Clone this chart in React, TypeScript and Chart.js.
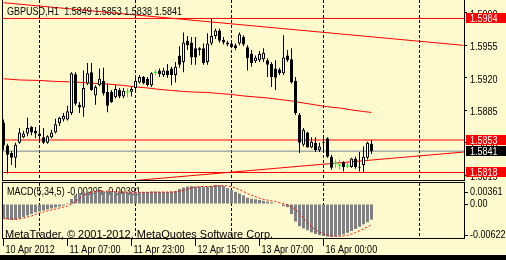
import React, { useEffect, useRef } from 'react';
import { Chart, registerables } from 'chart.js';

Chart.register(...registerables);

// ---------------- data ----------------
const symbolTitle = 'GBPUSD,H1  1.5849 1.5853 1.5838 1.5841';
const macdTitle = 'MACD(5,34,5) -0.00295 -0.00391';
const copyrightText = 'MetaTrader, \u00A9 2001-2012, MetaQuotes Software Corp.';

const timeTickBars = [0, 16, 32, 48, 64, 80];
const timeTickLabels = ['10 Apr 2012', '11 Apr 07:00', '11 Apr 23:00', '12 Apr 15:00', '13 Apr 07:00', '16 Apr 00:00'];
const dayGridBars = [9, 33, 57, 80, 104];
const priceTicks = [1.599, 1.5955, 1.592, 1.5885, 1.585, 1.5815];
const macdTicks = [0.00361, 0, -0.00622];
const macdTickLabels = ['0.00361', '0.00', '-0.00622'];

const opens = [
  1.5872, 1.5847, 1.5839, 1.5834, 1.5850, 1.5856, 1.5860, 1.5867, 1.5863, 1.5860,
  1.5856, 1.5850, 1.5856, 1.5861, 1.5871, 1.5875, 1.5875, 1.5882, 1.5924, 1.5891,
  1.5888, 1.5914, 1.5926, 1.5901, 1.5912, 1.5917, 1.5905, 1.5905, 1.5899, 1.5907,
  1.5900, 1.5905, 1.5905, 1.5909, 1.5915, 1.5921, 1.5919, 1.5912, 1.5926, 1.5928,
  1.5923, 1.5928, 1.5930, 1.5923, 1.5944, 1.5937, 1.5960, 1.5958, 1.5952, 1.5952,
  1.5952, 1.5937, 1.5957, 1.5965, 1.5971, 1.5961, 1.5958, 1.5957, 1.5955, 1.5957,
  1.5964, 1.5953, 1.5946, 1.5938, 1.5939, 1.5940, 1.5939, 1.5935, 1.5930, 1.5929,
  1.5925, 1.5944, 1.5940, 1.5917, 1.5880, 1.5848, 1.5861, 1.5845, 1.5850, 1.5842,
  1.5851, 1.5855, 1.5835, 1.5828, 1.5826, 1.5829, 1.5825, 1.5824, 1.5833, 1.5824,
  1.5826, 1.5834, 1.5849,
];
const highs = [
  1.5875, 1.5849, 1.5841, 1.5850, 1.5866, 1.5863, 1.5877, 1.5868, 1.5867, 1.5866,
  1.5866, 1.5858, 1.5864, 1.5876, 1.5878, 1.5882, 1.5890, 1.5926, 1.5926, 1.5894,
  1.5928, 1.5936, 1.5936, 1.5912, 1.5930, 1.5931, 1.5914, 1.5907, 1.5912, 1.5909,
  1.5909, 1.5909, 1.5910, 1.5920, 1.5923, 1.5922, 1.5921, 1.5926, 1.5929, 1.5930,
  1.5931, 1.5935, 1.5932, 1.5937, 1.5954, 1.5969, 1.5965, 1.5964, 1.5964, 1.5953,
  1.5957, 1.5968, 1.5984, 1.5973, 1.5973, 1.5964, 1.5960, 1.5960, 1.5957, 1.5969,
  1.5966, 1.5955, 1.5950, 1.5944, 1.5949, 1.5952, 1.5941, 1.5937, 1.5939, 1.5931,
  1.5966, 1.5950, 1.5952, 1.5921, 1.5882, 1.5866, 1.5862, 1.5856, 1.5856, 1.5850,
  1.5855, 1.5856, 1.5837, 1.5832, 1.5832, 1.5830, 1.5829, 1.5834, 1.5835, 1.5840,
  1.5846, 1.5851, 1.5853,
];
const lows = [
  1.5842, 1.5817, 1.5826, 1.5823, 1.5849, 1.5855, 1.5857, 1.5858, 1.5855, 1.5853,
  1.5849, 1.5849, 1.5855, 1.5860, 1.5868, 1.5873, 1.5874, 1.5880, 1.5890, 1.5882,
  1.5878, 1.5912, 1.5906, 1.5891, 1.5911, 1.5901, 1.5883, 1.5893, 1.5898, 1.5898,
  1.5898, 1.5899, 1.5900, 1.5907, 1.5914, 1.5913, 1.5911, 1.5910, 1.5923, 1.5921,
  1.5921, 1.5920, 1.5912, 1.5915, 1.5931, 1.5926, 1.5950, 1.5934, 1.5934, 1.5944,
  1.5934, 1.5934, 1.5955, 1.5962, 1.5958, 1.5956, 1.5954, 1.5952, 1.5950, 1.5955,
  1.5954, 1.5928, 1.5932, 1.5936, 1.5937, 1.5937, 1.5921, 1.5910, 1.5907, 1.5923,
  1.5923, 1.5937, 1.5914, 1.5880, 1.5839, 1.5846, 1.5845, 1.5844, 1.5840, 1.5840,
  1.5840, 1.5834, 1.5821, 1.5823, 1.5821, 1.5819, 1.5823, 1.5823, 1.5822, 1.5819,
  1.5818, 1.5832, 1.5838,
];
const closes = [
  1.5847, 1.5837, 1.5834, 1.5848, 1.5861, 1.5860, 1.5866, 1.5861, 1.5860, 1.5857,
  1.5850, 1.5857, 1.5861, 1.5870, 1.5877, 1.5879, 1.5884, 1.5925, 1.5892, 1.5888,
  1.5909, 1.5925, 1.5907, 1.5910, 1.5919, 1.5903, 1.5890, 1.5894, 1.5908, 1.5900,
  1.5906, 1.5905, 1.5908, 1.5917, 1.5921, 1.5914, 1.5912, 1.5925, 1.5926, 1.5924,
  1.5928, 1.5923, 1.5923, 1.5932, 1.5934, 1.5958, 1.5955, 1.5942, 1.5942, 1.5950,
  1.5936, 1.5957, 1.5965, 1.5971, 1.5960, 1.5958, 1.5956, 1.5953, 1.5952, 1.5967,
  1.5956, 1.5941, 1.5936, 1.5942, 1.5946, 1.5947, 1.5934, 1.5921, 1.5920, 1.5925,
  1.5942, 1.5939, 1.5915, 1.5882, 1.5850, 1.5864, 1.5845, 1.5851, 1.5842, 1.5846,
  1.5850, 1.5835, 1.5823, 1.5828, 1.5826, 1.5824, 1.5825, 1.5833, 1.5824, 1.5823,
  1.5835, 1.5850, 1.5841,
];

const levelLines = [1.5984, 1.5853, 1.5818];
const bidPrice = 1.5841;

const maBars = [0, 4, 9, 13, 18, 21, 24, 27, 30, 33, 36, 39, 42, 45, 48, 51, 54, 57, 60, 63, 66, 69, 72, 75, 78, 81, 84, 87, 90, 92];
const maValues = [
  1.5919, 1.59177, 1.59172, 1.59161, 1.59155, 1.59145, 1.59139, 1.59129, 1.59118, 1.59102,
  1.59091, 1.59075, 1.59064, 1.59053, 1.59046, 1.59042, 1.59031, 1.59021, 1.59005, 1.58994,
  1.58983, 1.58967, 1.58951, 1.58929, 1.58908, 1.58888, 1.58875, 1.58854, 1.58837, 1.58827,
];

const upperTrendBars = [0, 115];
const upperTrendPrices = [1.6001, 1.5955];
const lowerTrendBars = [30, 115];
const lowerTrendPrices = [1.58083, 1.584];

const macdHist = [
  -0.00274, -0.00289, -0.00302, -0.00296, -0.00274, -0.00245, -0.00217, -0.00189, -0.0016, -0.00142,
  -0.00123, -0.00104, -0.00085, -0.00066, -0.00047, -0.00028, 0.00019, 0.00094, 0.0017, 0.00208,
  0.00226, 0.00236, 0.00245, 0.00245, 0.00236, 0.00236, 0.00236, 0.00226, 0.00226, 0.00226,
  0.00226, 0.00217, 0.00217, 0.00226, 0.00226, 0.00226, 0.00226, 0.00236, 0.00236, 0.00226,
  0.00226, 0.00226, 0.00236, 0.00245, 0.00283, 0.00311, 0.0033, 0.0034, 0.0033, 0.0033,
  0.00321, 0.0033, 0.0034, 0.00361, 0.00355, 0.0034, 0.003, 0.00264, 0.0023, 0.002,
  0.00165, 0.0012, 0.001, 0.0009, 0.00075, 0.0006, 0.00045, 0.0003, 0.0001, -0.0001,
  -0.0004, -0.0006, -0.0019, -0.0033, -0.0042, -0.0046, -0.00495, -0.00535, -0.00565, -0.00585,
  -0.00604, -0.00615, -0.00622, -0.0061, -0.00595, -0.00575, -0.00545, -0.0051, -0.0047, -0.0043,
  -0.00385, -0.00345, -0.00295,
];
const macdSignal = [
  -0.00275, -0.0028, -0.00285, -0.00285, -0.0028, -0.00265, -0.00245, -0.00226, -0.00198, -0.0017,
  -0.00151, -0.00132, -0.00113, -0.00094, -0.00075, -0.00057, -0.00038, 0.0, 0.00047, 0.00104,
  0.0016, 0.00198, 0.00221, 0.00236, 0.00242, 0.00242, 0.0024, 0.00236, 0.00232, 0.00226,
  0.00226, 0.00221, 0.00221, 0.00221, 0.00221, 0.00221, 0.00221, 0.00221, 0.00221, 0.00226,
  0.00226, 0.00226, 0.00226, 0.00226, 0.00236, 0.00255, 0.00279, 0.00302, 0.00317, 0.00326,
  0.0033, 0.0033, 0.00332, 0.00338, 0.00344, 0.00345, 0.00341, 0.00326, 0.00302, 0.0027,
  0.00235, 0.00196, 0.00163, 0.00135, 0.0011, 0.00088, 0.00073, 0.0006, 0.00044, 0.00025,
  0.00007, -0.00014, -0.0005, -0.00108, -0.00178, -0.00264, -0.00346, -0.00427, -0.0049, -0.00532,
  -0.00563, -0.00587, -0.00603, -0.0061, -0.00612, -0.00605, -0.0059, -0.00567, -0.00539, -0.00506,
  -0.00468, -0.00432, -0.00391,
];

// ---------------- styling / layout ----------------
const W = 506;
const MAIN_H = 181;
const MACD_H = 79;
const AXIS_W = 42;
const X_MIN = -0.125;
const X_MAX = 115.125;
const Y_MIN = 1.58099;
const Y_MAX = 1.60039;
const MACD_MIN = -0.006415;
const MACD_MAX = 0.003962;

const BG = '#FFFACD';
const RED = '#FF0000';
const BID_GRAY = '#778899';
const HIST_GRAY = '#808080';
const DOJI_GREEN = '#00FF00';
const FONT_REG = "'Liberation Sans', Arial, sans-serif";
const NARROW = 0.82;

function narrowText(ctx: CanvasRenderingContext2D, text: string, x: number, y: number) {
  ctx.save();
  ctx.translate(x, y);
  ctx.scale(NARROW, 1);
  ctx.fillText(text, 0, 0);
  ctx.restore();
}

const zeroPad = (s: any) => {
  s.paddingTop = 0;
  s.paddingBottom = 0;
  s.paddingLeft = 0;
  s.paddingRight = 0;
};

function buildMainConfig(): any {
  const idx = opens.map((_, i) => i);
  const normal = idx.filter((i) => opens[i] !== closes[i]);
  const dojis = idx.filter((i) => opens[i] === closes[i]);
  const hline = (v: number) => [
    { x: X_MIN, y: v },
    { x: X_MAX, y: v },
  ];
  const lineBase = {
    type: 'line',
    borderWidth: 1,
    pointRadius: 0,
    pointHoverRadius: 0,
    tension: 0,
    fill: false,
    xAxisID: 'x',
    yAxisID: 'y',
  };
  const datasets: any[] = [
    ...levelLines.map((v) => ({ ...lineBase, data: hline(v), borderColor: RED, order: 6 })),
    { ...lineBase, data: hline(bidPrice), borderColor: BID_GRAY, order: 6 },
    { ...lineBase, data: maBars.map((b, k) => ({ x: b, y: maValues[k] })), borderColor: RED, order: 5 },
    { ...lineBase, data: upperTrendBars.map((b, k) => ({ x: b, y: upperTrendPrices[k] })), borderColor: RED, order: 5 },
    { ...lineBase, data: lowerTrendBars.map((b, k) => ({ x: b, y: lowerTrendPrices[k] })), borderColor: RED, order: 5 },
    {
      type: 'bar',
      data: normal.map((i) => ({ x: i, y: [lows[i], highs[i]] })),
      backgroundColor: '#000000',
      borderWidth: 0,
      barThickness: 1,
      grouped: false,
      inflateAmount: 0,
      order: 3,
      xAxisID: 'x',
      yAxisID: 'y',
    },
    {
      type: 'bar',
      data: dojis.map((i) => ({ x: i, y: [lows[i], highs[i]] })),
      backgroundColor: DOJI_GREEN,
      borderWidth: 0,
      barThickness: 1,
      grouped: false,
      inflateAmount: 0,
      order: 3,
      xAxisID: 'x',
      yAxisID: 'y',
    },
    {
      type: 'bar',
      data: normal.map((i) => ({ x: i, y: [opens[i], closes[i]] })),
      backgroundColor: normal.map((i) => (closes[i] > opens[i] ? '#FFFFFF' : '#000000')),
      borderColor: '#000000',
      borderWidth: 1,
      borderSkipped: false,
      barThickness: 3,
      grouped: false,
      inflateAmount: 0,
      order: 1,
      xAxisID: 'x',
      yAxisID: 'y',
    },
    {
      type: 'line',
      data: dojis.map((i) => ({ x: i, y: opens[i] })),
      showLine: false,
      pointStyle: 'line',
      pointRadius: 1.5,
      pointHoverRadius: 1.5,
      pointBorderColor: DOJI_GREEN,
      pointBorderWidth: 1,
      order: 1,
      xAxisID: 'x',
      yAxisID: 'y',
    },
  ];

  const decor = {
    id: 'mainDecor',
    afterDraw(chart: any) {
      const ctx = chart.ctx;
      const a = chart.chartArea;
      const ys = chart.scales.y;
      ctx.save();
      ctx.strokeStyle = '#000';
      ctx.lineWidth = 1;
      ctx.beginPath();
      ctx.moveTo(a.left - 0.5, 0);
      ctx.lineTo(a.left - 0.5, a.bottom + 1);
      ctx.moveTo(a.left - 1, a.bottom + 0.5);
      ctx.lineTo(a.right + 1, a.bottom + 0.5);
      ctx.moveTo(a.right + 0.5, 0);
      ctx.lineTo(a.right + 0.5, a.bottom + 1);
      ctx.stroke();

      ctx.fillStyle = '#000';
      ctx.font = `11px ${FONT_REG}`;
      ctx.textAlign = 'left';
      ctx.textBaseline = 'alphabetic';
      narrowText(ctx, symbolTitle, a.left + 4, 15);

      // price scale labels
      for (const v of priceTicks) {
        const p = ys.getPixelForValue(v);
        narrowText(ctx, v.toFixed(4), a.right + 6, Math.round(p) + 4.5);
      }

      const boxes = [...levelLines.map((v) => ({ v, bg: RED })), { v: bidPrice, bg: '#000000' }];
      for (const b of boxes) {
        const p = ys.getPixelForValue(b.v);
        const top = Math.floor(p - 5);
        ctx.fillStyle = b.bg;
        ctx.fillRect(a.right + 2, top, W - a.right - 2, 10);
        ctx.fillStyle = '#FFFFFF';
        narrowText(ctx, b.v.toFixed(4), a.right + 6, top + 9);
      }
      ctx.restore();
    },
  };

  return {
    type: 'bar',
    data: { datasets },
    options: {
      responsive: false,
      animation: false,
      devicePixelRatio: 1,
      events: [],
      layout: { autoPadding: false, padding: { left: 3, top: 0, right: 0, bottom: 1 } },
      plugins: { legend: { display: false }, tooltip: { enabled: false }, title: { display: false } },
      scales: {
        x: {
          type: 'linear',
          min: X_MIN,
          max: X_MAX,
          offset: false,
          afterBuildTicks: (s: any) => {
            s.ticks = dayGridBars.map((v) => ({ value: v }));
          },
          afterFit: (s: any) => {
            s.height = 0;
            zeroPad(s);
          },
          ticks: { display: false },
          grid: { display: true, drawOnChartArea: true, drawTicks: false, color: '#000', lineWidth: 1, offset: false },
          border: { display: false, dash: [3, 2] },
        },
        y: {
          type: 'linear',
          position: 'right',
          min: Y_MIN,
          max: Y_MAX,
          afterBuildTicks: (s: any) => {
            s.ticks = priceTicks.map((v) => ({ value: v }));
          },
          afterFit: (s: any) => {
            s.width = AXIS_W;
            zeroPad(s);
          },
          ticks: { display: false },
          grid: { drawOnChartArea: false, drawTicks: true, tickLength: 3, tickColor: '#000', color: '#000' },
          border: { display: true, color: '#000', width: 1 },
        },
      },
    },
    plugins: [decor],
  };
}

function buildMacdConfig(): any {
  const idx = macdHist.map((_, i) => i);
  const datasets: any[] = [
    {
      type: 'line',
      data: idx.map((i) => ({ x: i, y: macdSignal[i] })),
      borderColor: RED,
      borderWidth: 1,
      borderDash: [2, 2],
      pointRadius: 0,
      pointHoverRadius: 0,
      tension: 0,
      fill: false,
      order: 0,
      xAxisID: 'x',
      yAxisID: 'y',
    },
    {
      type: 'bar',
      data: idx.map((i) => ({ x: i, y: macdHist[i] })),
      backgroundColor: HIST_GRAY,
      borderWidth: 0,
      barThickness: 3,
      grouped: false,
      inflateAmount: 0,
      order: 1,
      xAxisID: 'x',
      yAxisID: 'y',
    },
  ];

  const decor = {
    id: 'macdDecor',
    beforeDatasetsDraw(chart: any) {
      const ctx = chart.ctx;
      const a = chart.chartArea;
      ctx.save();
      ctx.fillStyle = '#000';
      ctx.font = `11px ${FONT_REG}`;
      ctx.textAlign = 'left';
      ctx.textBaseline = 'alphabetic';
      narrowText(ctx, macdTitle, a.left + 4, a.top + 12);
      ctx.restore();
    },
    afterDraw(chart: any) {
      const ctx = chart.ctx;
      const a = chart.chartArea;
      const ys = chart.scales.y;
      const xs = chart.scales.x;
      ctx.save();
      ctx.strokeStyle = '#000';
      ctx.lineWidth = 1;
      ctx.beginPath();
      ctx.moveTo(a.left - 1, a.top - 0.5);
      ctx.lineTo(a.right + 1, a.top - 0.5);
      ctx.moveTo(a.left - 0.5, a.top - 1);
      ctx.lineTo(a.left - 0.5, a.bottom + 1);
      ctx.moveTo(a.right + 0.5, a.top - 1);
      ctx.lineTo(a.right + 0.5, a.bottom + 1);
      ctx.stroke();

      ctx.fillStyle = '#000';
      ctx.font = `11px ${FONT_REG}`;
      ctx.textAlign = 'left';
      ctx.textBaseline = 'alphabetic';
      ctx.fillText(copyrightText, a.left + 2, a.bottom);

      // indicator scale labels (kept inside the window like MetaTrader does)
      macdTicks.forEach((v, k) => {
        let p = ys.getPixelForValue(v);
        p = Math.max(a.top + 8.5, Math.min(a.bottom - 3.5, p));
        const py = Math.round(p) + 0.5;
        ctx.beginPath();
        ctx.moveTo(a.right + 1, py);
        ctx.lineTo(a.right + 4, py);
        ctx.stroke();
        narrowText(ctx, macdTickLabels[k], a.right + 6, py + 2.5);
      });

      // time labels
      timeTickBars.forEach((b, k) => {
        const px = xs.getPixelForValue(b);
        narrowText(ctx, timeTickLabels[k], Math.floor(px) + 2.5, a.bottom + 14.5);
      });
      ctx.restore();
    },
  };

  return {
    type: 'bar',
    data: { datasets },
    options: {
      responsive: false,
      animation: false,
      devicePixelRatio: 1,
      events: [],
      layout: { autoPadding: false, padding: { left: 3, top: 2, right: 0, bottom: 0 } },
      plugins: { legend: { display: false }, tooltip: { enabled: false }, title: { display: false } },
      scales: {
        x: {
          type: 'linear',
          position: 'bottom',
          min: X_MIN,
          max: X_MAX,
          offset: false,
          afterBuildTicks: (s: any) => {
            s.ticks = timeTickBars.map((v) => ({ value: v }));
          },
          afterFit: (s: any) => {
            s.height = MACD_H - 57;
            zeroPad(s);
          },
          ticks: { display: false },
          grid: { drawOnChartArea: false, drawTicks: true, tickLength: 8, tickColor: '#000', color: '#000', offset: false },
          border: { display: true, color: '#000', width: 1 },
        },
        x2: {
          type: 'linear',
          axis: 'x',
          position: 'top',
          min: X_MIN,
          max: X_MAX,
          offset: false,
          afterBuildTicks: (s: any) => {
            s.ticks = dayGridBars.map((v) => ({ value: v }));
          },
          afterFit: (s: any) => {
            s.height = 0;
            zeroPad(s);
          },
          ticks: { display: false },
          grid: { display: true, drawOnChartArea: true, drawTicks: false, color: '#000', lineWidth: 1, offset: false },
          border: { display: false, dash: [3, 2] },
        },
        y: {
          type: 'linear',
          position: 'right',
          min: MACD_MIN,
          max: MACD_MAX,
          afterFit: (s: any) => {
            s.width = AXIS_W;
            zeroPad(s);
          },
          ticks: { display: false },
          grid: { drawOnChartArea: false, drawTicks: false },
          border: { display: true, color: '#000', width: 1 },
        },
      },
    },
    plugins: [decor],
  };
}

export default function App() {
  const mainRef = useRef<HTMLCanvasElement>(null);
  const macdRef = useRef<HTMLCanvasElement>(null);

  useEffect(() => {
    document.body.style.margin = '0';
    const c1 = new Chart(mainRef.current as HTMLCanvasElement, buildMainConfig());
    const c2 = new Chart(macdRef.current as HTMLCanvasElement, buildMacdConfig());
    return () => {
      c1.destroy();
      c2.destroy();
    };
  }, []);

  return (
    <div style={{ position: 'fixed', left: 0, top: 0, width: W, height: 260, background: BG, overflow: 'hidden' }}>
      <canvas
        ref={mainRef}
        width={W}
        height={MAIN_H}
        style={{ position: 'absolute', left: 0, top: 0, width: W, height: MAIN_H }}
      />
      <canvas
        ref={macdRef}
        width={W}
        height={MACD_H}
        style={{ position: 'absolute', left: 0, top: MAIN_H, width: W, height: MACD_H }}
      />
      <div style={{ position: 'absolute', left: 0, top: 255, width: W, height: 5, background: '#000' }} />
    </div>
  );
}
